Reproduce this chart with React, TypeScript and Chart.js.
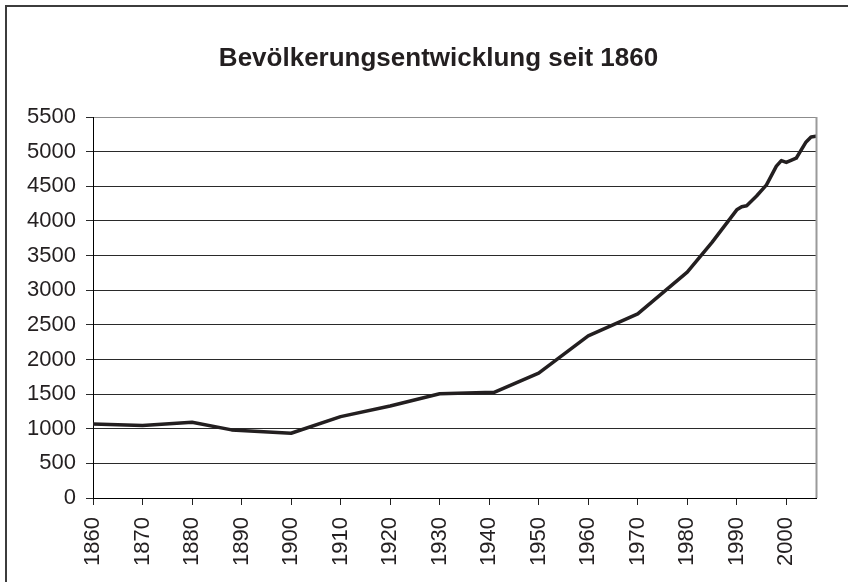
import React, { useEffect, useRef } from "react";
import { Chart, registerables } from "chart.js";

Chart.register(...registerables);

const TITLE = "Bevölkerungsentwicklung seit 1860";
const years = [1860, 1870, 1880, 1888, 1900, 1910, 1920, 1930, 1941, 1950, 1960, 1970, 1980, 1985, 1990, 1991, 1992, 1994, 1996, 1998, 1999, 2000, 2002, 2004, 2005, 2006];
const population = [1070, 1045, 1094, 983, 935, 1175, 1329, 1505, 1525, 1802, 2341, 2659, 3260, 3690, 4160, 4205, 4220, 4360, 4520, 4790, 4870, 4845, 4905, 5140, 5212, 5222];
const xTickYears = [1860, 1870, 1880, 1890, 1900, 1910, 1920, 1930, 1940, 1950, 1960, 1970, 1980, 1990, 2000];
const yTickValues = [0, 500, 1000, 1500, 2000, 2500, 3000, 3500, 4000, 4500, 5000, 5500];

const FONT = "'Liberation Sans', Arial, sans-serif";
const TEXT = "#231f20";

const decorPlugin = {
  id: "decor",
  afterDraw(chart: any) {
    const { ctx, chartArea } = chart;
    ctx.save();
    // right plot border
    ctx.strokeStyle = "#9a9a9a";
    ctx.lineWidth = 2;
    ctx.beginPath();
    ctx.moveTo(chartArea.right + 0.5, chartArea.top);
    ctx.lineTo(chartArea.right + 0.5, chartArea.bottom);
    ctx.stroke();
    // outer frame
    ctx.strokeStyle = "#3c3c3c";
    ctx.lineWidth = 2;
    ctx.strokeRect(6, 6, 1000, 1000);
    // title
    ctx.fillStyle = TEXT;
    ctx.font = `bold 26px ${FONT}`;
    ctx.textAlign = "center";
    ctx.textBaseline = "middle";
    ctx.fillText(TITLE, 438.5, 58.5);
    ctx.restore();
  },
};

export default function App() {
  const ref = useRef<HTMLCanvasElement | null>(null);
  useEffect(() => {
    if (!ref.current) return;
    const chart = new Chart(ref.current, {
      type: "line",
      data: {
        datasets: [
          {
            data: years.map((y, i) => ({ x: y, y: population[i] })),
            borderColor: TEXT,
            borderWidth: 3.5,
            pointRadius: 0,
            tension: 0,
            borderJoinStyle: "round",
            borderCapStyle: "round",
            fill: false,
          },
        ],
      },
      options: {
        animation: false,
        responsive: false,
        layout: { padding: { top: 117, right: 32, left: 0, bottom: 0 } },
        plugins: { legend: { display: false }, title: { display: false }, tooltip: { enabled: false } },
        scales: {
          x: {
            type: "linear",
            min: 1860,
            max: 2006,
            afterFit: (s: any) => {
              s.height = 84;
            },
            afterBuildTicks: (s: any) => {
              s.ticks = xTickYears.map((v) => ({ value: v }));
            },
            border: { display: true, color: "#000", width: 1 },
            grid: { display: true, drawOnChartArea: false, drawTicks: true, tickLength: 7, color: "#222" },
            ticks: {
              autoSkip: false,
              minRotation: 90,
              maxRotation: 90,
              padding: 12,
              color: TEXT,
              font: { family: FONT, size: 22 },
              callback: (v: any) => String(v),
            },
          },
          y: {
            min: 0,
            max: 5500,
            afterFit: (s: any) => {
              s.width = 93;
            },
            afterBuildTicks: (s: any) => {
              s.ticks = yTickValues.map((v) => ({ value: v }));
            },
            border: { display: true, color: "#000", width: 1 },
            grid: {
              display: true,
              drawOnChartArea: true,
              drawTicks: true,
              tickLength: 7,
              color: (c: any) => (c.tick && c.tick.value === 5500 ? "#8c8c8c" : "#2a2a2a"),
              tickColor: "#2a2a2a",
            },
            ticks: {
              padding: 10,
              color: TEXT,
              font: { family: FONT, size: 22 },
              callback: (v: any) => String(v),
            },
          },
        },
      },
      plugins: [decorPlugin],
    } as any);
    return () => chart.destroy();
  }, []);
  return (
    <div style={{ position: "fixed", left: 0, top: 0, width: 848, height: 582, background: "#fff" }}>
      <canvas ref={ref} width={848} height={582} style={{ display: "block", width: 848, height: 582 }} />
    </div>
  );
}
